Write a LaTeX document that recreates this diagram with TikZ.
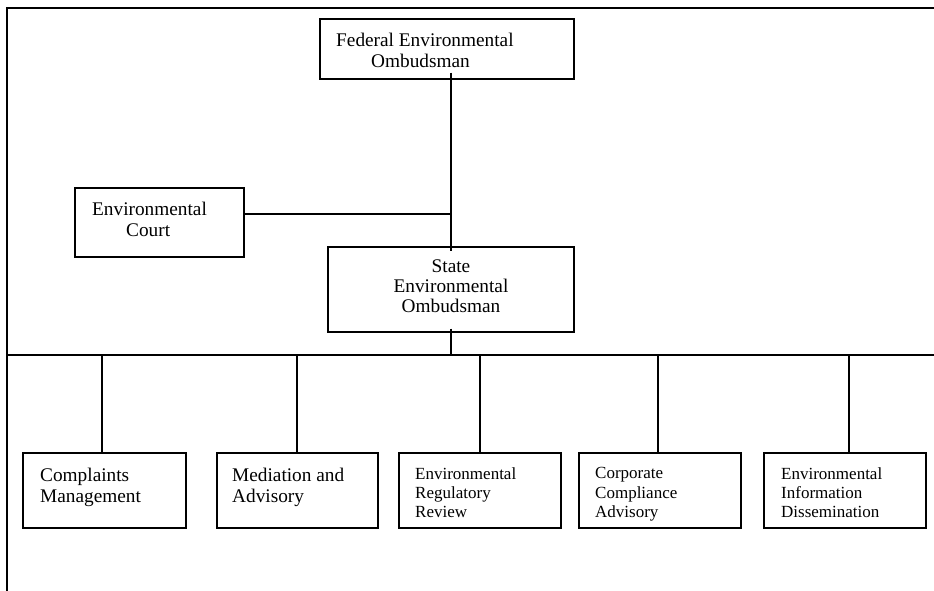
\documentclass[tikz,border=0pt]{standalone}
\usepackage{fontspec}
\setmainfont{Liberation Serif}
\begin{document}
\begin{tikzpicture}[x=1pt,y=-1pt,
  box/.style={draw, line width=1.4pt, inner sep=0pt},
  big/.style={font=\fontsize{19.3}{21}\selectfont, inner sep=0pt, anchor=north west, align=left},
  small/.style={font=\fontsize{17}{19.4}\selectfont, inner sep=0pt, anchor=north west, align=left},
  link/.style={line width=1.4pt},
  frame/.style={line width=1.6pt}]
\useasboundingbox (0,0) rectangle (934,591);
% outer frame
\draw[frame] (7,591) -- (7,8) -- (934,8);
\coordinate (busL) at (7,355);
\coordinate (busR) at (934,355);
\draw[frame] (busL) -- (busR);
% boxes
\node[box, minimum width=254pt, minimum height=60pt] (fed) at (447,49) {};
\node[box, minimum width=169pt, minimum height=69pt] (court) at (159.5,222.5) {};
\node[box, minimum width=246pt, minimum height=85pt] (st) at (451,289.5) {};
\node[box, minimum width=163pt, minimum height=75pt] (b1) at (104.5,490.5) {};
\node[box, minimum width=161pt, minimum height=75pt] (b2) at (297.5,490.5) {};
\node[box, minimum width=162pt, minimum height=75pt] (b3) at (480,490.5) {};
\node[box, minimum width=162pt, minimum height=75pt] (b4) at (660,490.5) {};
\node[box, minimum width=162pt, minimum height=75pt] (b5) at (845,490.5) {};
% texts
\node[big] (fedtxt) at (336,32.8) {Federal Environmental\\\hspace*{35pt}Ombudsman};
\node[big] (courttxt) at (92,201.8) {Environmental\\\hspace*{34pt}Court};
\node[big, anchor=north, align=center, font=\fontsize{19.3}{20}\selectfont] (sttxt) at (451,260) {State\\Environmental\\Ombudsman};
\node[big] (b1txt) at (40,467.8) {Complaints\\Management};
\node[big] (b2txt) at (232,467.8) {Mediation and\\Advisory};
\node[small] (b3txt) at (415,467) {Environmental\\Regulatory\\Review};
\node[small] (b4txt) at (595,467.5) {Corporate\\Compliance\\Advisory};
\node[small] (b5txt) at (781,467) {Environmental\\Information\\Dissemination};
% connectors
\coordinate (j) at (451,214);
\draw[link] ([yshift=7pt]fed.south -| st.north) -- ([yshift=-5pt]st.north);
\draw[link] ([yshift=8.5pt]court.east) -- (j);
\draw[link] ([yshift=4pt]st.south) -- (st.south |- busL);
\draw[link] ([xshift=-2.5pt]b1.north) -- ([xshift=-2.5pt]b1.north |- busL);
\draw[link] ([xshift=-0.5pt]b2.north) -- ([xshift=-0.5pt]b2.north |- busL);
\draw[link] (b3.north) -- (b3.north |- busL);
\draw[link] ([xshift=-2pt]b4.north) -- ([xshift=-2pt]b4.north |- busL);
\draw[link] ([xshift=4pt]b5.north) -- ([xshift=4pt]b5.north |- busL);
\end{tikzpicture}
\end{document}
